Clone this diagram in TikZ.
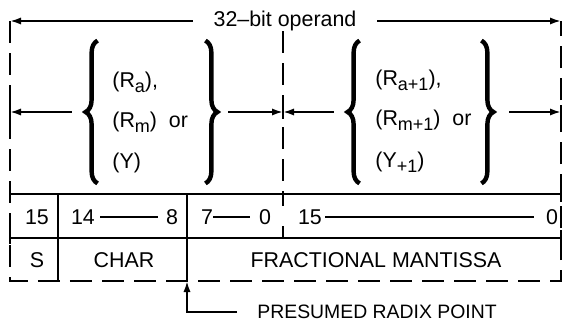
\documentclass[tikz,border=0pt]{standalone}
\usepackage{fontspec}
\setmainfont{Liberation Sans}
\usetikzlibrary{arrows.meta,positioning,calc,decorations.pathreplacing}

\newcommand{\regsub}[1]{\raisebox{-2.8pt}{\fontsize{9}{10}\selectfont #1}}

\begin{document}
\begin{tikzpicture}[x=0.5pt, y=-0.5pt, >={Latex[length=5.5pt,width=3.6pt]},
    font=\fontsize{10.7}{13}\selectfont,
    rule/.style={line width=1pt},
    dashrule/.style={line width=1pt, dash pattern=on 11pt off 5pt},
    lbl/.style={inner sep=0pt},
    group/.style={minimum width=#1, minimum height=71pt, inner sep=0pt},
    curly/.style={decorate, decoration={brace, amplitude=6pt}, line width=2.2pt}]

  \useasboundingbox (0,0) rectangle (564,322);

  % ends of the arrows
  \coordinate (tl) at (10,21);
  \coordinate (tr) at (561,21);
  \coordinate (ml) at (10,112);
  \coordinate (mm) at (283,112);
  \coordinate (mr) at (561,112);
  \coordinate (radix) at (187,281);

  \node[lbl, minimum width=80pt] (title) at (285,21) {32--bit operand};
  \draw[->, rule, shorten <=6pt] (title.west) -- (tl);
  \draw[->, rule, shorten <=6pt] (title.east) -- (tr);

  % outer frame and word boundary
  \draw[dashrule] (tl) -- (10,281) -- (561,281) -- (tr);
  \draw[dashrule] (mm |- title.south) -- (283,194);
  \foreach \x in {10,283,561}
    \draw[rule] (\x,112-7) -- (\x,112+7);
  \foreach \x in {10,561} {
    \draw[rule] (\x,194-6) -- (\x,194+8);
    \draw[rule] (\x,238-8) -- (\x,238+6);
  }
  \draw[rule] (283,194) -- (283,206);
  \draw[rule] (283,226) -- (283,238);

  % bit row and field row
  \draw[rule] (10,194) -- (561,194);
  \draw[rule] (10,238) -- (561,238);
  \draw[rule] (58,194) -- (58,281);
  \draw[rule] (187,194) -- (radix);

  \node[lbl] (b15) at (37,217) {15};
  \node[lbl] (b14) at (83,217) {14};
  \node[lbl] (b8) at (172,217) {8};
  \node[lbl] (b7) at (207,217) {7};
  \node[lbl] (b0) at (265,217) {0};
  \node[lbl] (b15m) at (310,217) {15};
  \node[lbl] (b0m) at (552,217) {0};
  \draw[rule, shorten <=2.5pt, shorten >=4pt] (b14.east) -- (b8.west);
  \draw[rule, shorten >=4.5pt] (b7.east) -- (b0.west);
  \draw[rule, shorten <=1.5pt, shorten >=6pt] (b15m.east) -- (b0m.west);

  \node[lbl] (fs) at (37,260) {S};
  \node[lbl] (fchar) at (124,260) {CHAR};
  \node[lbl] (fmant) at (376,260) {FRACTIONAL MANTISSA};

  % radix point
  \node[lbl, anchor=west, font=\fontsize{9.7}{12}\selectfont] (radixtxt) at (257,312) {PRESUMED RADIX POINT};
  \draw[->, rule, shorten <=10pt] (radixtxt.west) -| (radix);

  % first word
  \node[group=65.5pt] (opsA) at (151.5,112) {};
  \draw[curly] ([xshift=6pt]opsA.south west) -- ([xshift=6pt]opsA.north west);
  \draw[curly] ([xshift=-6pt]opsA.north east) -- ([xshift=-6pt]opsA.south east);
  \node[lbl, anchor=base west] (ra) at (112,87) {(R\regsub{a}),};
  \node[lbl, anchor=base west] (rm) at (112,127) {(R\regsub{m})\ \ or};
  \node[lbl, anchor=base west] (ry) at (112,168) {(Y)};
  \draw[->, rule, shorten <=7pt] (opsA.west) -- (ml);
  \draw[->, rule, shorten <=5.5pt] (opsA.east) -- (mm);

  % second word
  \node[group=72.5pt] (opsB) at (420.5,112) {};
  \draw[curly] ([xshift=6pt]opsB.south west) -- ([xshift=6pt]opsB.north west);
  \draw[curly] ([xshift=-6pt]opsB.north east) -- ([xshift=-6pt]opsB.south east);
  \node[lbl, anchor=base west] (rb) at (375,85) {(R\regsub{a+1}),};
  \node[lbl, anchor=base west] (rn) at (375,125) {(R\regsub{m+1})\ \ or};
  \node[lbl, anchor=base west] (rz) at (375,167) {(Y\regsub{+1})};
  \draw[->, rule, shorten <=7pt] (opsB.west) -- (mm);
  \draw[->, rule, shorten <=8pt] (opsB.east) -- (mr);
\end{tikzpicture}
\end{document}
